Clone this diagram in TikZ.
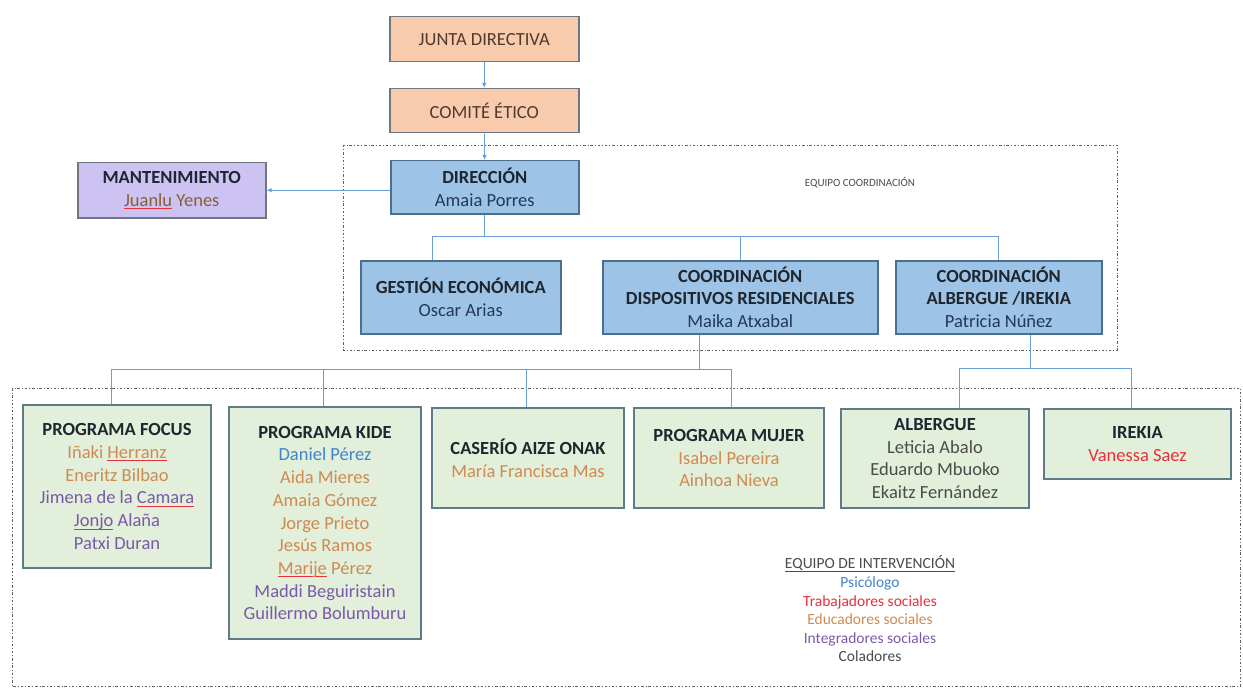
\documentclass[tikz,border=0pt]{standalone}
\usepackage{fontspec}
\setmainfont{Carlito}
\usepackage{tikz}
\usetikzlibrary{arrows.meta, positioning}

\definecolor{melocoton}{HTML}{F8CBAD}
\definecolor{azulcaja}{HTML}{9DC3E6}
\definecolor{lila}{HTML}{CCC3F3}
\definecolor{verdecaja}{HTML}{E2EFDA}
\definecolor{bordegris}{HTML}{6E7680}
\definecolor{bordeazul}{HTML}{4A6F8F}
\definecolor{bordeverde}{HTML}{5E7B86}
\definecolor{azulflecha}{HTML}{6A9FD6}
\definecolor{titulo}{HTML}{1E2630}
\definecolor{nombreazul}{HTML}{23385A}
\definecolor{marron}{HTML}{4E3A2E}
\definecolor{cpsico}{HTML}{3F85C8}
\definecolor{ctrab}{HTML}{E8303A}
\definecolor{ceduc}{HTML}{CF8A52}
\definecolor{cinteg}{HTML}{7A5AA8}
\definecolor{ccola}{HTML}{4B4B4B}
\definecolor{cmant}{HTML}{8A5E35}

% colores del equipo de intervencion
\newcommand{\npsico}[1]{\textcolor{cpsico}{#1}}
\newcommand{\ntrab}[1]{\textcolor{ctrab}{#1}}
\newcommand{\neduc}[1]{\textcolor{ceduc}{#1}}
\newcommand{\ninteg}[1]{\textcolor{cinteg}{#1}}
\newcommand{\ncola}[1]{\textcolor{ccola}{#1}}
% subrayados (corrector y leyenda)
\newsavebox{\rayabox}
\newcommand{\raya}[2]{\sbox{\rayabox}{#2}\rlap{\textcolor{#1}{\rule[-2.8pt]{\wd\rayabox}{0.8pt}}}\usebox{\rayabox}}
\newcommand{\spellerr}[1]{\raya{ctrab}{#1}}

\begin{document}
\begin{tikzpicture}[x=1pt, y=-1pt,
    organo/.style={draw=bordegris, fill=melocoton, line width=1.5pt, anchor=north west,
      font=\fontsize{18.5}{22.7}\selectfont, text=marron},
    cargo/.style={draw=bordeazul, fill=azulcaja, line width=1.5pt, anchor=north west, inner sep=2pt,
      align=center, font=\fontsize{18.5}{22.5}\selectfont, text=nombreazul},
    programa/.style={draw=bordeverde, fill=verdecaja, line width=2pt, anchor=north west, inner sep=2pt,
      align=center, font=\fontsize{18.5}{22.7}\selectfont},
    conector/.style={draw=azulflecha, line width=0.8pt},
    flecha/.style={conector, -{Latex[length=5pt, width=4.5pt]}},
    punteado/.style={draw=gray!75!black, line width=0.8pt, dash pattern=on 2.5pt off 2pt on 0.8pt off 2pt}]
    \useasboundingbox (0,0) rectangle (1243,690);

    % Equipos (recuadros punteados)
    \draw[punteado] (343,145) rectangle (1117,350);
    \draw[punteado] (12,388) rectangle (1240,686);
    \node[font=\fontsize{11}{13}\selectfont, text=ccola] (eqcoord) at (860,183) {EQUIPO COORDINACIÓN};

    % Organos de gobierno
    \node[organo, minimum width=189, minimum height=45] (junta) at (389,16) {JUNTA DIRECTIVA};
    \node[organo, minimum width=189, minimum height=44] (comite) at (389,88) {COMITÉ ÉTICO};
    \node[cargo, minimum width=188, minimum height=53] (dir) at (390,160) {\textcolor{titulo}{\textbf{DIRECCIÓN}}\\Amaia Porres};
    \node[cargo, fill=lila, draw=bordegris, minimum width=188, minimum height=55, text=cmant] (mant) at (77,162)
      {\textcolor{titulo}{\textbf{MANTENIMIENTO}}\\\spellerr{Juanlu} Yenes};

    % Coordinaciones
    \node[cargo, minimum width=200, minimum height=73] (gest) at (360,260) {\textcolor{titulo}{\textbf{GESTIÓN ECONÓMICA}}\\Oscar Arias};
    \node[cargo, minimum width=275, minimum height=73] (cdisp) at (602,260)
      {\textcolor{titulo}{\textbf{COORDINACIÓN}}\\\textcolor{titulo}{\textbf{DISPOSITIVOS RESIDENCIALES}}\\Maika Atxabal};
    \node[cargo, minimum width=206, minimum height=73] (calb) at (895,260)
      {\textcolor{titulo}{\textbf{COORDINACIÓN}}\\\textcolor{titulo}{\textbf{ALBERGUE /IREKIA}}\\Patricia Núñez};

    % Programas
    \node[programa, minimum width=188, minimum height=163] (focus) at (22,404)
      {\textcolor{titulo}{\textbf{PROGRAMA FOCUS}}\\\neduc{Iñaki \spellerr{Herranz}}\\\neduc{Eneritz Bilbao}\\
       \ninteg{Jimena de la \spellerr{Camara}}\\\ninteg{\spellerr{Jonjo} Alaña}\\\ninteg{Patxi Duran}};
    \node[programa, minimum width=192, minimum height=232] (kide) at (228,406)
      {\textcolor{titulo}{\textbf{PROGRAMA KIDE}}\\\npsico{Daniel Pérez}\\\neduc{Aida Mieres}\\\neduc{Amaia Gómez}\\
       \neduc{Jorge Prieto}\\\neduc{Jesús Ramos}\\\neduc{\spellerr{Marije} Pérez}\\\ninteg{Maddi Beguiristain}\\\ninteg{Guillermo Bolumburu}};
    \node[programa, minimum width=192, minimum height=100] (caserio) at (431,407)
      {\textcolor{titulo}{\textbf{CASERÍO AIZE ONAK}}\\\neduc{María Francisca Mas}};
    \node[programa, minimum width=190, minimum height=100] (mujer) at (633,407)
      {\textcolor{titulo}{\textbf{PROGRAMA MUJER}}\\\neduc{Isabel Pereira}\\\neduc{Ainhoa Nieva}};
    \node[programa, minimum width=188, minimum height=99] (albergue) at (840,408)
      {\textcolor{titulo}{\textbf{ALBERGUE}}\\\ncola{Leticia Abalo}\\\ncola{Eduardo Mbuoko}\\\ncola{Ekaitz Fernández}};
    \node[programa, minimum width=187, minimum height=70] (irekia) at (1043,408)
      {\textcolor{titulo}{\textbf{IREKIA}}\\\ntrab{Vanessa Saez}};

    % Leyenda
    \node[align=center, font=\fontsize{15.5}{18.6}\selectfont, text=ccola] (leyenda) at (870,609)
      {\raya{ccola}{EQUIPO DE INTERVENCIÓN}\\\npsico{Psicólogo}\\\ntrab{Trabajadores sociales}\\\neduc{Educadores sociales}\\
       \ninteg{Integradores sociales}\\\ncola{Coladores}};

    % Flechas
    \draw[flecha] (junta) -- (comite);
    \draw[flecha] (comite) -- (dir);
    \draw[flecha] (dir.west |- mant.east) -- (mant.east);

    % Ramas
    \coordinate (bus1) at (484,236);
    \coordinate (bus2) at (699,369);
    \coordinate (bus3) at (1030,368);
    \draw[conector] (dir.south -| bus1) -- (bus1);
    \draw[conector] ([xshift=-28]gest.north) |- (calb.north |- bus1) -- (calb.north);
    \draw[conector] (cdisp.north) -- (cdisp.north |- bus1);
    \draw[conector] (cdisp.south -| bus2) -- (bus2);
    \draw[conector] ([xshift=-6]focus.north) |- ([xshift=2]mujer.north |- bus2) -- ([xshift=2]mujer.north);
    \draw[conector] ([xshift=-2]kide.north) -- ([xshift=-2]kide.north |- bus2);
    \draw[conector] ([xshift=-2]caserio.north) -- ([xshift=-2]caserio.north |- bus2);
    \draw[conector] (calb.south -| bus3) -- (bus3);
    \draw[conector] ([xshift=24]albergue.north) |- ([xshift=-6]irekia.north |- bus3) -- ([xshift=-6]irekia.north);
\end{tikzpicture}
\end{document}
